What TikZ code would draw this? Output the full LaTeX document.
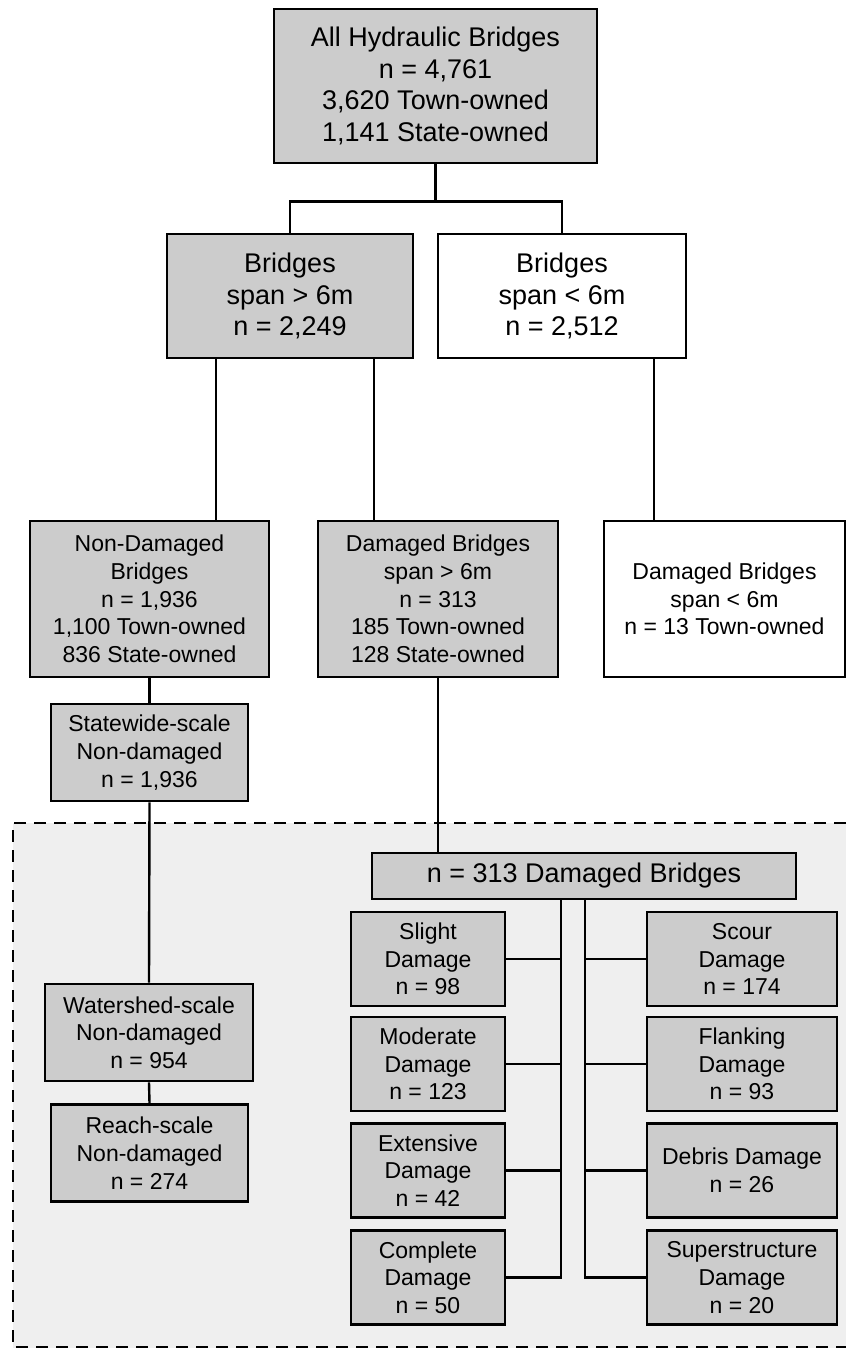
\documentclass[tikz,border=0pt]{standalone}
\usepackage{fontspec}
\setmainfont{Liberation Sans}
\definecolor{boxgray}{HTML}{CCCCCC}
\definecolor{regiongray}{HTML}{EFEFEF}
\newcommand\bigtxt{\fontsize{27}{31.5}\selectfont}
\newcommand\smalltxt{\fontsize{23}{27.7}\selectfont}
\tikzset{
  box/.style={draw=black, line width=2.8pt, fill=boxgray, inner sep=0pt, align=center, anchor=center},
  whitebox/.style={box, fill=white},
  bigbox/.style={font=\bigtxt},
  smallbox/.style={font=\smalltxt},
  conn/.style={draw=black, line width=2.4pt},
  regionline/.style={draw=black, line width=2.8pt, dash pattern=on 12pt off 8pt}
}
\begin{document}
\begin{tikzpicture}[x=1pt,y=-1pt]
\useasboundingbox (0,0) rectangle (846,1348);
% dashed region
\fill[regiongray] (13,823) rectangle (846,1348);
\draw[regionline] (846,823) -- (13,823) -- (13,1347) -- (846,1347);

% connectors (drawn first, under boxes)
\node[box,bigbox,minimum width=323pt,minimum height=154pt] (top) at (435.5,86)
  {All Hydraulic Bridges\\n = 4,761\\3,620 Town-owned\\1,141 State-owned};
\node[box,bigbox,minimum width=246pt,minimum height=124pt] (gt) at (290,296)
  {Bridges\\span > 6m\\n = 2,249};
\node[whitebox,bigbox,minimum width=248pt,minimum height=124pt] (lt) at (562,296)
  {Bridges\\span < 6m\\n = 2,512};
\node[box,smallbox,minimum width=239pt,minimum height=156pt] (nd) at (149.5,599)
  {Non-Damaged\\Bridges\\n = 1,936\\1,100 Town-owned\\836 State-owned};
\node[box,smallbox,minimum width=240pt,minimum height=156pt] (dgt) at (438,599)
  {Damaged Bridges\\span > 6m\\n = 313\\185 Town-owned\\128 State-owned};
\node[whitebox,smallbox,minimum width=241pt,minimum height=156pt] (dlt) at (724.5,599)
  {Damaged Bridges\\span < 6m\\n = 13 Town-owned};
\node[box,smallbox,minimum width=197pt,minimum height=97pt] (sw) at (149.5,752.5)
  {Statewide-scale\\Non-damaged\\n = 1,936};
\node[box,smallbox,minimum width=208pt,minimum height=97pt] (ws) at (149,1032.5)
  {Watershed-scale\\Non-damaged\\n = 954};
\node[box,smallbox,minimum width=197pt,minimum height=97pt] (rs) at (149.5,1153)
  {Reach-scale\\Non-damaged\\n = 274};
\node[box,bigbox,minimum width=424pt,minimum height=46pt] (all) at (584,876)
  {n = 313 Damaged Bridges};

\node[box,smallbox,minimum width=154pt,minimum height=94pt] (l1) at (428,959) {Slight\\Damage\\n = 98};
\node[box,smallbox,minimum width=154pt,minimum height=94pt] (l2) at (428,1064) {Moderate\\Damage\\n = 123};
\node[box,smallbox,minimum width=154pt,minimum height=94pt] (l3) at (428,1170.5) {Extensive\\Damage\\n = 42};
\node[box,smallbox,minimum width=154pt,minimum height=94pt] (l4) at (428,1277.5) {Complete\\Damage\\n = 50};
\node[box,smallbox,minimum width=190pt,minimum height=94pt] (r1) at (742,959) {Scour\\Damage\\n = 174};
\node[box,smallbox,minimum width=190pt,minimum height=94pt] (r2) at (742,1064) {Flanking\\Damage\\n = 93};
\node[box,smallbox,minimum width=190pt,minimum height=94pt] (r3) at (742,1170.5) {Debris Damage\\n = 26};
\node[box,smallbox,minimum width=190pt,minimum height=94pt] (r4) at (742,1277.5) {Superstructure\\Damage\\n = 20};

% connectors
\coordinate (split) at ([yshift=-37pt]top.south);
\draw[conn] (top.south) -- (split);
\draw[conn] (gt.north) |- (split) -| (lt.north);
\coordinate (gtl) at ([xshift=-74pt]gt.south);
\coordinate (gtr) at ([xshift=84pt]gt.south);
\coordinate (ltd) at ([xshift=92pt]lt.south);
\draw[conn] (gtl) -- (gtl |- nd.north);
\draw[conn] (gtr) -- (gtr |- dgt.north);
\draw[conn] (ltd) -- (ltd |- dlt.north);
\draw[conn] (nd.south) -- (sw.north);
\draw[conn] (sw.south) -- (ws.north);
\draw[conn] (ws.south) -- (rs.north);
\draw[conn] (dgt.south) -- (dgt.south |- all.north);
\coordinate (tl) at ([xshift=-23pt]all.south);
\coordinate (tr) at ([xshift=1pt]all.south);
\draw[conn] (tl) -- (tl |- l4.east) -- (l4.east);
\draw[conn] (tr) -- (tr |- r4.west) -- (r4.west);
\foreach \n in {l1,l2,l3} {\draw[conn] (\n.east) -- (\n.east -| tl);}
\foreach \n in {r1,r2,r3} {\draw[conn] (\n.west) -- (\n.west -| tr);}
\end{tikzpicture}
\end{document}
